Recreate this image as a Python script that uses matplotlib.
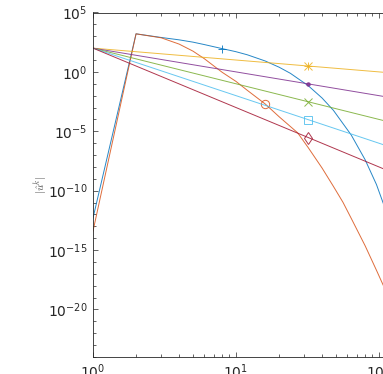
import numpy as np
import matplotlib
matplotlib.use("Agg")
import matplotlib.pyplot as plt
from matplotlib.ticker import FixedLocator, LogFormatterMathtext, NullFormatter

# ---- data -------------------------------------------------------------
k_blue = [1, 2, 3, 4, 5, 6, 8, 10, 12, 16, 20, 24, 32, 40, 48, 64, 80, 96, 128, 160]
blue_vals = [5.0e-13, 1.6e3, 7.9e2, 5.0e2, 3.2e2, 2.0e2, 9.1e1, 5.0e1, 2.75e1,
             8.3e0, 2.5e0, 7.6e-1, 6.9e-2, 6.3e-3, 5.8e-4, 4.8e-6, 4.0e-8,
             3.3e-10, 2.3e-14, 1.6e-18]
k_orange = [1, 2, 3, 4, 5, 6, 8, 10, 12, 16, 20, 27, 32, 40, 48, 56, 64, 80,
            96, 112, 128, 160]
orange_vals = [4.0e-14, 1.6e3, 7.4e2, 2.2e2, 5.6e1, 1.3e1, 9.3e-1, 1.58e-1,
               2.8e-2, 2.0e-3, 1.7e-4, 7.4e-6, 4.2e-7, 8.0e-9, 2.3e-10,
               1.05e-11, 4.6e-13, 2.3e-15, 2.0e-17, 3.3e-19, 8.1e-21, 9.1e-24]

k_line = [1, 32, 160]
yellow_vals = [1.0e2, 3.125e0, 6.25e-1]
purple_vals = [1.0e2, 9.77e-2, 3.9e-3]
green_vals = [1.0e2, 3.05e-3, 2.44e-5]
cyan_vals = [1.0e2, 9.54e-5, 1.5e-7]
red_vals = [1.0e2, 2.98e-6, 9.5e-10]

x_ticks = [1e0, 1e1, 1e2]
y_ticks = [1e-20, 1e-15, 1e-10, 1e-5, 1e0, 1e5]

# ---- figure -----------------------------------------------------------
fig = plt.figure(figsize=(3.83, 3.74), dpi=100)
ax = fig.add_axes([93 / 383, 1 - 357 / 374, 315 / 383, 344.5 / 374])

lw = 0.7
ms = 6
series = [
    (k_blue, blue_vals, "#0072BD", ["+"], 6),
    (k_orange, orange_vals, "#D95319", ["o"], 9),
    (k_line, yellow_vals, "#EDB120", ["+", "x"], 1),
    (k_line, purple_vals, "#7E2F8E", ["."], 1),
    (k_line, green_vals, "#77AC30", ["x"], 1),
    (k_line, cyan_vals, "#4DBEEE", ["s"], 1),
    (k_line, red_vals, "#A2142F", ["d"], 1),
]
for xs, ys, c, marks, mi in series:
    ax.plot(xs, ys, color=c, lw=lw, alpha=0.85)
    for m in marks:
        ax.plot(xs, ys, linestyle="none", color=c, marker=m, markevery=[mi],
                markersize=ms if m != "." else 5,
                markerfacecolor="none" if m != "." else c,
                markeredgewidth=0.7, alpha=0.85)

ax.set_xscale("log")
ax.set_yscale("log")
ax.set_xlim(1, 10 ** (315 / 143))
ax.set_ylim(1e-24, 1e5)

ax.xaxis.set_major_locator(FixedLocator(x_ticks))
ax.xaxis.set_major_formatter(LogFormatterMathtext())
minors_x = [m * 10 ** d for d in range(0, 3) for m in range(2, 10)]
ax.xaxis.set_minor_locator(FixedLocator(minors_x))
ax.xaxis.set_minor_formatter(NullFormatter())

ax.yaxis.set_major_locator(FixedLocator(y_ticks))
ax.yaxis.set_major_formatter(LogFormatterMathtext())
ax.yaxis.set_minor_locator(FixedLocator([10.0 ** e for e in range(-24, 6)]))
ax.yaxis.set_minor_formatter(NullFormatter())

tc = "#262626"
ax.tick_params(which="both", direction="in", top=True, right=False, color=tc,
               labelcolor=tc, width=0.5, labelsize=10)
ax.tick_params(which="major", length=3.5, pad=4)
ax.tick_params(which="minor", length=2)
for s in ax.spines.values():
    s.set_color(tc)
    s.set_linewidth(0.6)
ax.spines["right"].set_visible(False)

ax.set_ylabel(r"$|\hat{u}^k|$", fontsize=8, color="#555555", math_fontfamily="cm")
ax.yaxis.set_label_coords(-0.14, 0.5)

fig.savefig("out.png", dpi=100)
